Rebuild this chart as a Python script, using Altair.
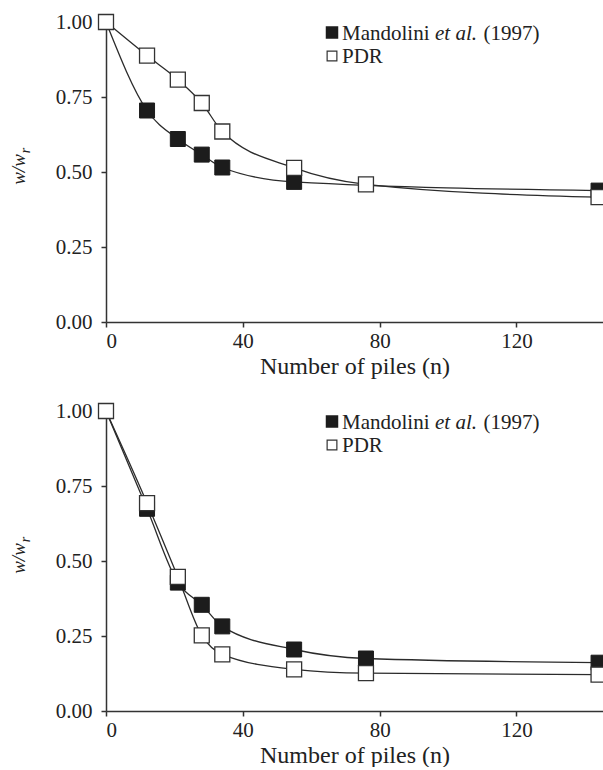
import altair as alt
import pandas as pd

# ---- data ----
n_top_mand = [0, 12, 21, 28, 34, 55, 144]
w_top_mand = [1.0, 0.705, 0.610, 0.558, 0.515, 0.467, 0.438]
n_top_pdr = [0, 12, 21, 28, 34, 55, 76, 144]
w_top_pdr = [1.0, 0.888, 0.808, 0.730, 0.635, 0.514, 0.459, 0.416]

n_bot_mand = [0, 12, 21, 28, 34, 55, 76, 144]
w_bot_mand = [1.0, 0.674, 0.428, 0.354, 0.282, 0.205, 0.175, 0.161]
n_bot_pdr = [0, 12, 21, 28, 34, 55, 76, 144]
w_bot_pdr = [1.0, 0.693, 0.447, 0.252, 0.189, 0.139, 0.126, 0.121]

x_ticks = [0, 40, 80, 120]
y_ticks = [0.0, 0.25, 0.5, 0.75, 1.0]
x_title = "Number of piles (n)"

FONT = "Liberation Serif"
INK = "#2b2b2b"


def one(text):
    return pd.DataFrame({"t": [text]})


def panel(nm, wm, npd, wp, width, xmax, title_x):
    dm = pd.DataFrame({"n": nm, "w": wm})
    dp = pd.DataFrame({"n": npd, "w": wp})
    x = alt.X("n:Q", scale=alt.Scale(domain=[0, xmax], nice=False, zero=False),
              axis=alt.Axis(values=x_ticks, title=x_title, format="d",
                            labelPadding=3, titlePadding=3))
    y = alt.Y("w:Q", scale=alt.Scale(domain=[0, 1], nice=False),
              axis=alt.Axis(values=y_ticks, format=".2f", title=None,
                            labelPadding=9))
    base_m = alt.Chart(dm)
    base_p = alt.Chart(dp)
    lm = base_m.mark_line(interpolate="monotone", color=INK, strokeWidth=1.3).encode(x=x, y=y)
    lp = base_p.mark_line(interpolate="monotone", color=INK, strokeWidth=1.3).encode(x=x, y=y)
    pm_in = base_m.transform_filter("datum.n < 100").mark_square(
        size=225, fill="#1c1c1c", stroke="#1c1c1c", strokeWidth=1, opacity=1).encode(x=x, y=y)
    pm_out = base_m.transform_filter("datum.n >= 100").mark_square(
        size=225, fill="#1c1c1c", stroke="#1c1c1c", strokeWidth=1, opacity=1, clip=True).encode(x=x, y=y)
    pp_in = base_p.transform_filter("datum.n < 100").mark_square(
        size=225, fill="white", stroke="#333333", strokeWidth=1.3, opacity=1).encode(x=x, y=y)
    pp_out = base_p.transform_filter("datum.n >= 100").mark_square(
        size=225, fill="white", stroke="#333333", strokeWidth=1.3, opacity=1, clip=True).encode(x=x, y=y)

    # legend
    leg_sq1 = alt.Chart(one("a")).mark_square(size=110, fill="#1c1c1c", stroke="#1c1c1c",
                                             opacity=1).encode(x=alt.value(226), y=alt.value(10.5))
    leg_sq2 = alt.Chart(one("b")).mark_square(size=95, fill="white", stroke="#333333",
                                             strokeWidth=1.2, opacity=1).encode(x=alt.value(226), y=alt.value(34))
    txt = dict(font=FONT, fontSize=21, color="#222222", align="left", baseline="alphabetic")
    leg_t1 = alt.Chart(one("Mandolini")).mark_text(**txt).encode(
        x=alt.value(236), y=alt.value(17.6), text="t:N")
    leg_t2 = alt.Chart(one("et al.")).mark_text(fontStyle="italic", **txt).encode(
        x=alt.value(329), y=alt.value(17.6), text="t:N")
    leg_t3 = alt.Chart(one("(1997)")).mark_text(**txt).encode(
        x=alt.value(377.5), y=alt.value(17.6), text="t:N")
    leg_t4 = alt.Chart(one("PDR")).mark_text(**txt).encode(
        x=alt.value(236), y=alt.value(41), text="t:N")

    # y-axis title  w/w_r
    yt1 = alt.Chart(one("w/w")).mark_text(font=FONT, fontSize=19, fontStyle="italic", color="#222222",
                                         angle=270, align="center", baseline="alphabetic").encode(
        x=alt.value(title_x), y=alt.value(147.5), text="t:N")
    yt2 = alt.Chart(one("r")).mark_text(font=FONT, fontSize=14, fontStyle="italic", color="#222222",
                                       angle=270, align="center", baseline="alphabetic").encode(
        x=alt.value(title_x + 4.5), y=alt.value(128.5), text="t:N")

    return alt.layer(lm, lp, pm_in, pm_out, pp_in, pp_out,
                     leg_sq1, leg_sq2, leg_t1, leg_t2, leg_t3, leg_t4, yt1, yt2).properties(
        width=width, height=300)


top = panel(n_top_mand, w_top_mand, n_top_pdr, w_top_pdr, 497, 145.3, -81)
bot = panel(n_bot_mand, w_bot_mand, n_bot_pdr, w_bot_pdr, 497, 145.3, -81)

chart = alt.vconcat(top, bot, spacing=22).properties(
    padding={"left": 10, "top": 11, "right": 0, "bottom": 0}
).configure_view(stroke=None).configure_axis(
    grid=False,
    domainColor="#333333", domainWidth=1.5,
    tickColor="#333333", tickWidth=1.5, tickSize=5,
    labelFont=FONT, labelFontSize=21, labelColor="#222222",
    titleFont=FONT, titleFontSize=24, titleFontWeight="normal", titleColor="#222222",
)

chart.save("out.html", embed_options={"renderer": "svg", "actions": False})
